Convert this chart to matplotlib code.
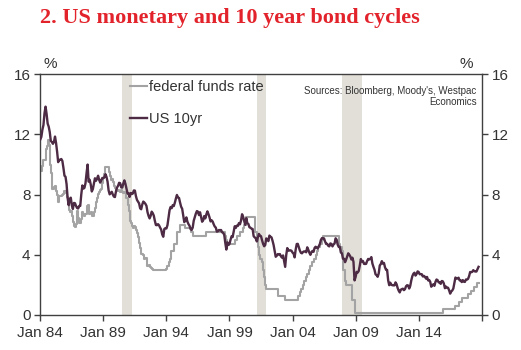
import numpy as np
import matplotlib
matplotlib.use("Agg")
import matplotlib.pyplot as plt
from matplotlib.lines import Line2D

# ---------------- data (monthly, from Jan 1984) ----------------
start_year = 1984

fed_funds = [
    # 1984
    9.56, 9.59, 9.91, 10.29, 10.32, 11.06, 11.23, 11.64, 11.30, 9.99, 9.43, 8.38,
    # 1985
    8.35, 8.50, 8.58, 8.27, 7.97, 7.53, 7.88, 7.90, 7.92, 7.99, 8.05, 8.27,
    # 1986
    8.14, 7.86, 7.48, 6.99, 6.85, 6.92, 6.56, 6.17, 5.89, 5.85, 6.04, 6.91,
    # 1987
    6.43, 6.10, 6.13, 6.37, 6.85, 6.73, 6.58, 6.73, 7.22, 7.29, 6.69, 6.77,
    # 1988
    6.83, 6.58, 6.58, 6.87, 7.09, 7.51, 7.75, 8.01, 8.19, 8.30, 8.35, 8.76,
    # 1989
    9.12, 9.36, 9.85, 9.84, 9.81, 9.53, 9.24, 8.99, 9.02, 8.84, 8.55, 8.45,
    # 1990
    8.23, 8.24, 8.28, 8.26, 8.18, 8.29, 8.15, 8.13, 8.20, 8.11, 7.81, 7.31,
    # 1991
    6.91, 6.25, 6.12, 5.91, 5.78, 5.90, 5.82, 5.66, 5.45, 5.21, 4.81, 4.43,
    # 1992
    4.03, 4.06, 3.98, 3.73, 3.82, 3.76, 3.25, 3.30, 3.22, 3.10, 3.09, 3.00,
    # 1993
    3.00, 3.00, 3.00, 3.00, 3.00, 3.00, 3.00, 3.00, 3.00, 3.00, 3.00, 3.00,
    # 1994
    3.05, 3.25, 3.50, 3.75, 4.25, 4.25, 4.25, 4.75, 4.75, 4.75, 5.50, 5.50,
    # 1995
    5.50, 6.00, 6.00, 6.00, 6.00, 6.00, 5.75, 5.75, 5.75, 5.75, 5.75, 5.50,
    # 1996
    5.50, 5.25, 5.25, 5.25, 5.25, 5.25, 5.25, 5.25, 5.25, 5.25, 5.25, 5.25,
    # 1997
    5.25, 5.25, 5.50, 5.50, 5.50, 5.50, 5.50, 5.50, 5.50, 5.50, 5.50, 5.50,
    # 1998
    5.50, 5.50, 5.50, 5.50, 5.50, 5.50, 5.50, 5.50, 5.25, 5.00, 4.75, 4.75,
    # 1999
    4.75, 4.75, 4.75, 4.75, 4.75, 5.00, 5.00, 5.25, 5.25, 5.25, 5.50, 5.50,
    # 2000
    5.50, 5.75, 6.00, 6.00, 6.50, 6.50, 6.50, 6.50, 6.50, 6.50, 6.50, 6.50,
    # 2001
    5.50, 5.50, 5.00, 4.50, 4.00, 3.75, 3.75, 3.50, 3.00, 2.50, 2.00, 1.75,
    # 2002
    1.75, 1.75, 1.75, 1.75, 1.75, 1.75, 1.75, 1.75, 1.75, 1.75, 1.25, 1.25,
    # 2003
    1.25, 1.25, 1.25, 1.25, 1.25, 1.00, 1.00, 1.00, 1.00, 1.00, 1.00, 1.00,
    # 2004
    1.00, 1.00, 1.00, 1.00, 1.00, 1.25, 1.25, 1.50, 1.75, 1.75, 2.00, 2.25,
    # 2005
    2.25, 2.50, 2.75, 2.75, 3.00, 3.25, 3.25, 3.50, 3.75, 3.75, 4.00, 4.25,
    # 2006
    4.50, 4.50, 4.75, 4.75, 5.00, 5.25, 5.25, 5.25, 5.25, 5.25, 5.25, 5.25,
    # 2007
    5.25, 5.25, 5.25, 5.25, 5.25, 5.25, 5.25, 5.25, 4.75, 4.50, 4.50, 4.25,
    # 2008
    3.00, 3.00, 2.25, 2.00, 2.00, 2.00, 2.00, 2.00, 2.00, 1.00, 1.00, 0.125,
    # 2009
    0.125, 0.125, 0.125, 0.125, 0.125, 0.125, 0.125, 0.125, 0.125, 0.125, 0.125, 0.125,
    # 2010
    0.125, 0.125, 0.125, 0.125, 0.125, 0.125, 0.125, 0.125, 0.125, 0.125, 0.125, 0.125,
    # 2011
    0.125, 0.125, 0.125, 0.125, 0.125, 0.125, 0.125, 0.125, 0.125, 0.125, 0.125, 0.125,
    # 2012
    0.125, 0.125, 0.125, 0.125, 0.125, 0.125, 0.125, 0.125, 0.125, 0.125, 0.125, 0.125,
    # 2013
    0.125, 0.125, 0.125, 0.125, 0.125, 0.125, 0.125, 0.125, 0.125, 0.125, 0.125, 0.125,
    # 2014
    0.125, 0.125, 0.125, 0.125, 0.125, 0.125, 0.125, 0.125, 0.125, 0.125, 0.125, 0.125,
    # 2015
    0.125, 0.125, 0.125, 0.125, 0.125, 0.125, 0.125, 0.125, 0.125, 0.125, 0.125, 0.375,
    # 2016
    0.375, 0.375, 0.375, 0.375, 0.375, 0.375, 0.375, 0.375, 0.375, 0.375, 0.375, 0.625,
    # 2017
    0.625, 0.625, 0.875, 0.875, 0.875, 1.125, 1.125, 1.125, 1.125, 1.125, 1.125, 1.375,
    # 2018
    1.375, 1.375, 1.625, 1.625, 1.625, 1.875, 1.875, 1.875, 2.125, 2.125,
]

us_10yr = [
    # 1984
    11.67, 11.84, 12.32, 12.63, 13.41, 13.85, 13.36, 12.72, 12.52, 12.16, 11.57, 11.50,
    # 1985
    11.38, 11.51, 11.86, 11.43, 10.85, 10.16, 10.31, 10.33, 10.37, 10.24, 9.78, 9.26,
    # 1986
    9.19, 8.70, 7.78, 7.30, 7.71, 7.80, 7.30, 7.05, 7.45, 7.43, 7.25, 7.11,
    # 1987
    7.08, 7.25, 7.25, 8.02, 8.61, 8.40, 8.45, 8.76, 9.42, 10.00, 8.86, 8.99,
    # 1988
    8.67, 8.21, 8.37, 8.72, 9.09, 8.92, 9.06, 9.26, 8.98, 8.80, 8.96, 9.11,
    # 1989
    9.09, 9.17, 9.36, 9.18, 8.86, 8.28, 8.02, 8.11, 8.19, 8.01, 7.87, 7.84,
    # 1990
    8.21, 8.47, 8.59, 8.79, 8.76, 8.48, 8.47, 8.75, 8.95, 8.72, 8.39, 8.08,
    # 1991
    8.09, 7.85, 8.11, 8.04, 8.07, 8.28, 8.27, 7.90, 7.65, 7.53, 7.42, 7.09,
    # 1992
    7.03, 7.34, 7.54, 7.48, 7.39, 7.26, 6.84, 6.59, 6.42, 6.59, 6.87, 6.77,
    # 1993
    6.60, 6.26, 5.98, 5.97, 6.04, 5.96, 5.81, 5.68, 5.36, 5.20, 5.72, 5.77,
    # 1994
    5.75, 5.97, 6.48, 6.97, 7.18, 7.10, 7.30, 7.24, 7.46, 7.74, 7.98, 7.81,
    # 1995
    7.78, 7.47, 7.20, 7.06, 6.63, 6.17, 6.28, 6.49, 6.20, 6.04, 5.93, 5.71,
    # 1996
    5.65, 5.81, 6.27, 6.51, 6.74, 6.91, 6.87, 6.64, 6.83, 6.53, 6.20, 6.30,
    # 1997
    6.58, 6.42, 6.69, 6.89, 6.71, 6.49, 6.22, 6.30, 6.21, 6.03, 5.88, 5.81,
    # 1998
    5.54, 5.57, 5.65, 5.64, 5.65, 5.50, 5.46, 5.34, 4.81, 4.35, 4.83, 4.65,
    # 1999
    4.72, 5.00, 5.23, 5.18, 5.54, 5.90, 5.79, 5.94, 5.92, 6.11, 6.03, 6.28,
    # 2000
    6.70, 6.52, 6.26, 5.99, 6.44, 6.10, 6.05, 5.83, 5.80, 5.74, 5.72, 5.24,
    # 2001
    5.16, 5.10, 4.89, 5.14, 5.39, 5.28, 5.24, 4.97, 4.73, 4.57, 4.65, 5.09,
    # 2002
    5.04, 4.91, 5.28, 5.21, 5.16, 4.93, 4.65, 4.26, 3.87, 3.94, 4.05, 4.03,
    # 2003
    4.05, 3.90, 3.81, 3.96, 3.57, 3.20, 3.98, 4.45, 4.27, 4.29, 4.30, 4.27,
    # 2004
    4.15, 4.08, 3.83, 4.35, 4.72, 4.73, 4.50, 4.28, 4.13, 4.10, 4.19, 4.23,
    # 2005
    4.22, 4.17, 4.50, 4.34, 4.14, 4.00, 4.18, 4.26, 4.20, 4.46, 4.54, 4.47,
    # 2006
    4.42, 4.57, 4.72, 4.99, 5.11, 5.11, 5.09, 4.88, 4.72, 4.73, 4.60, 4.56,
    # 2007
    4.76, 4.72, 4.56, 4.69, 4.75, 5.10, 5.00, 4.67, 4.52, 4.53, 4.15, 4.10,
    # 2008
    3.74, 3.74, 3.51, 3.68, 3.88, 4.10, 4.01, 3.89, 3.69, 3.81, 3.53, 2.30,
    # 2009
    2.52, 2.87, 2.82, 2.93, 3.29, 3.72, 3.56, 3.59, 3.40, 3.39, 3.40, 3.59,
    # 2010
    3.73, 3.69, 3.73, 3.85, 3.42, 3.20, 3.01, 2.70, 2.65, 2.54, 2.76, 3.29,
    # 2011
    3.39, 3.58, 3.41, 3.46, 3.17, 3.00, 3.00, 2.30, 1.98, 2.15, 2.01, 1.98,
    # 2012
    1.97, 1.97, 2.17, 2.05, 1.80, 1.62, 1.50, 1.68, 1.72, 1.75, 1.65, 1.72,
    # 2013
    1.91, 1.98, 1.96, 1.76, 1.93, 2.30, 2.58, 2.74, 2.81, 2.62, 2.72, 2.90,
    # 2014
    2.86, 2.71, 2.72, 2.71, 2.56, 2.60, 2.54, 2.42, 2.53, 2.30, 2.33, 2.21,
    # 2015
    1.88, 1.98, 2.04, 1.94, 2.20, 2.36, 2.32, 2.17, 2.17, 2.07, 2.26, 2.24,
    # 2016
    2.09, 1.78, 1.89, 1.81, 1.81, 1.64, 1.42, 1.56, 1.63, 1.76, 2.14, 2.49,
    # 2017
    2.43, 2.42, 2.48, 2.30, 2.30, 2.19, 2.32, 2.21, 2.20, 2.36, 2.35, 2.40,
    # 2018
    2.58, 2.86, 2.84, 2.87, 2.98, 2.91, 2.89, 2.89, 3.05, 3.20,
]

recessions = [(1990.5, 1991.25), (2001.17, 2001.92), (2007.92, 2009.5)]

x_ticks = [1984, 1989, 1994, 1999, 2004, 2009, 2014, 2019]
x_tick_labels = ["Jan 84", "Jan 89", "Jan 94", "Jan 99", "Jan 04", "Jan 09", "Jan 14", ""]
y_ticks = [0, 4, 8, 12, 16]

title = "2. US monetary and 10 year bond cycles"
source_text = "Sources: Bloomberg, Moody's, Westpac\nEconomics"

# ---------------- plotting ----------------
plt.rcParams['font.family'] = ['Liberation Sans', 'DejaVu Sans']

W, H = 521, 350
fig = plt.figure(figsize=(W / 100, H / 100), dpi=100)
ax = fig.add_axes([40.3 / W, 1 - 315 / H, (481.7 - 40.3) / W, (315 - 74.3) / H])

t_ff = start_year + np.arange(len(fed_funds)) / 12.0
t_10 = start_year + np.arange(len(us_10yr)) / 12.0

for a, b in recessions:
    ax.axvspan(a, b, color="#E2DFD9", lw=0, zorder=0)

ff_col = "#A3A3A3"
y10_col = "#4D2B44"
ax.plot(t_ff, fed_funds, color=ff_col, lw=1.5, drawstyle="steps-post", zorder=2)
ax.plot(t_10, us_10yr, color=y10_col, lw=1.7, zorder=3)

ax.set_xlim(1984, 2019)
ax.set_ylim(0, 16)
ax.set_xticks(x_ticks)
ax.set_xticklabels(x_tick_labels)
ax.set_yticks(y_ticks)
ax.tick_params(axis="both", direction="out", length=4, width=1, color="#404040",
               labelsize=11, labelcolor="#333333")
ax.tick_params(axis="y", which="both", left=True, right=True, labelleft=True, labelright=True, pad=3)
ax.tick_params(axis="x", pad=4)
for s in ax.spines.values():
    s.set_color("#404040")
    s.set_linewidth(1)

# legend
handles = [Line2D([], [], color=ff_col, lw=1.5), Line2D([], [], color=y10_col, lw=1.7)]
leg = fig.legend(handles, ["federal funds rate", "US 10yr"], loc="upper left",
                 bbox_to_anchor=(124 / W, 1 - 74 / H), frameon=False, fontsize=10.5,
                 handlelength=1.2, handletextpad=0.1, labelspacing=1.25,
                 labelcolor="#333333", borderaxespad=0)

fig.text(476.5 / W, 1 - 86 / H, source_text, ha="right", va="top", fontsize=7,
         color="#333333", linespacing=1.15)

fig.text(50 / W, 1 - 64 / H, "%", ha="center", va="center", fontsize=11, color="#333333")
fig.text(466 / W, 1 - 64 / H, "%", ha="center", va="center", fontsize=11, color="#333333")

fig.text(40 / W, 1 - 18 / H, title, ha="left", va="center", fontsize=16,
         fontweight="bold", color="#E3232B", family=["Liberation Serif", "DejaVu Serif"])

fig.savefig("out.png", dpi=100)
